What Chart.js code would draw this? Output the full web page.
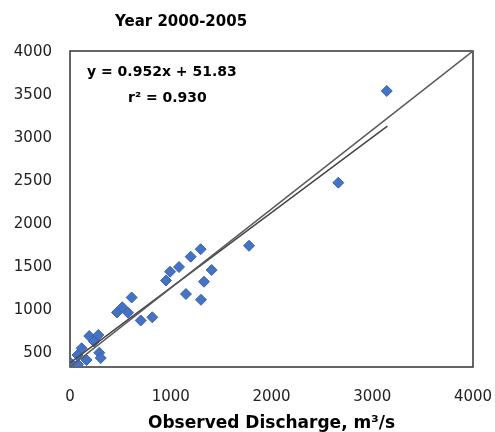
<!DOCTYPE html>
<html>
<head>
<meta charset="utf-8">
<script src="https://cdn.jsdelivr.net/npm/chart.js@4/dist/chart.umd.min.js"></script>
<style>
  body { margin: 0; background: #fff; }
  #wrap { width: 495px; height: 432px; }
</style>
</head>
<body>
<div id="wrap"><canvas id="scatter"></canvas></div>
<script>
// observed vs simulated discharge
const observed = [10, 79, 74, 116, 164, 191, 238, 281, 291, 305,
                  467, 519, 576, 612, 702, 817,
                  953, 993, 1082, 1151, 1198, 1297, 1300, 1330, 1406,
                  1777, 2663, 3144];
const simulated = [45, 32, 152, 237, 89, 392, 323, 405, 181, 114,
                   690, 756, 687, 880, 589, 629,
                   1095, 1206, 1266, 924, 1396, 1491, 851, 1080, 1228,
                   1535, 2333, 3494];

// trendline ends and the 1:1 line
const fitX = [0, 3150];
const fitY = [52, 3050];
const oneToOneX = [0, 4000];
const oneToOneY = [0, 4000];

const xTicks = [0, 1000, 2000, 3000, 4000];
const yTickLabels = [500, 1000, 1500, 2000, 2500, 3000, 3500, 4000];

const chartTitle = 'Year 2000-2005';
const xTitle = 'Observed Discharge, m\u00b3/s';
const eqLine1 = 'y = 0.952x + 51.83';
const eqLine2 = 'r\u00b2 = 0.930';

const toPts = (xs, ys) => xs.map((x, i) => ({ x: x, y: ys[i] }));
const plain = v => String(v);

const annotations = {
    id: 'annotations',
    beforeDatasetsDraw(chart) {
        const { ctx, chartArea: a } = chart;
        ctx.save();
        ctx.strokeStyle = '#333';
        ctx.lineWidth = 1.5;
        ctx.strokeRect(a.left, a.top, a.right - a.left, a.bottom - a.top);
        ctx.restore();
    },
    afterDraw(chart) {
        const ctx = chart.ctx;
        ctx.save();
        ctx.fillStyle = '#000';
        ctx.textBaseline = 'middle';
        ctx.font = 'bold 15px "DejaVu Sans"';
        ctx.fillText(chartTitle, 115, 22);
        ctx.font = 'bold 14px "DejaVu Sans"';
        ctx.fillText(eqLine1, 87, 72);
        ctx.fillText(eqLine2, 128, 98);
        ctx.restore();
    }
};

new Chart(document.getElementById('scatter'), {
    type: 'scatter',
    data: {
        datasets: [
            {
                label: '1:1',
                type: 'line',
                data: toPts(oneToOneX, oneToOneY),
                borderColor: '#5a5a5a',
                borderWidth: 1.5,
                pointRadius: 0,
                yAxisID: 'y'
            },
            {
                label: 'fit',
                type: 'line',
                data: toPts(fitX, fitY),
                borderColor: '#444',
                borderWidth: 1.5,
                pointRadius: 0,
                yAxisID: 'y'
            },
            {
                label: 'data',
                data: toPts(observed, simulated),
                pointStyle: 'rectRot',
                pointRadius: 5.5,
                backgroundColor: '#4672c4',
                borderColor: '#3a62ae',
                borderWidth: 1,
                yAxisID: 'y'
            }
        ]
    },
    options: {
        responsive: true,
        maintainAspectRatio: false,
        animation: false,
        layout: { padding: { top: 51, right: 22, left: 0, bottom: 0 } },
        plugins: {
            legend: { display: false },
            tooltip: { enabled: false }
        },
        scales: {
            x: {
                type: 'linear',
                min: 0,
                max: 4000,
                afterBuildTicks: s => { s.ticks = xTicks.map(v => ({ value: v })); },
                afterFit: s => { s.height = 65; s.paddingLeft = 0; s.paddingRight = 0; },
                grid: { display: false, drawTicks: false },
                border: { display: false },
                ticks: { color: '#222', padding: 21, callback: plain, font: { family: 'DejaVu Sans', size: 15 } },
                title: {
                    display: true,
                    text: xTitle,
                    color: '#000',
                    padding: { top: 0, bottom: -2 },
                    font: { family: 'DejaVu Sans', size: 17, weight: 'bold' }
                }
            },
            y: {
                type: 'linear',
                min: 0,
                max: 4000,
                display: false
            },
            // the printed labels in the source sit on their own spacing
            yl: {
                type: 'linear',
                position: 'left',
                min: 337,
                max: 4017,
                afterBuildTicks: s => { s.ticks = yTickLabels.map(v => ({ value: v })); },
                afterFit: s => { s.width = 70; },
                grid: { display: false, drawTicks: false },
                border: { display: false },
                ticks: { color: '#222', padding: 18, callback: plain, font: { family: 'DejaVu Sans', size: 15 } }
            }
        }
    },
    plugins: [annotations]
});
</script>
</body>
</html>
